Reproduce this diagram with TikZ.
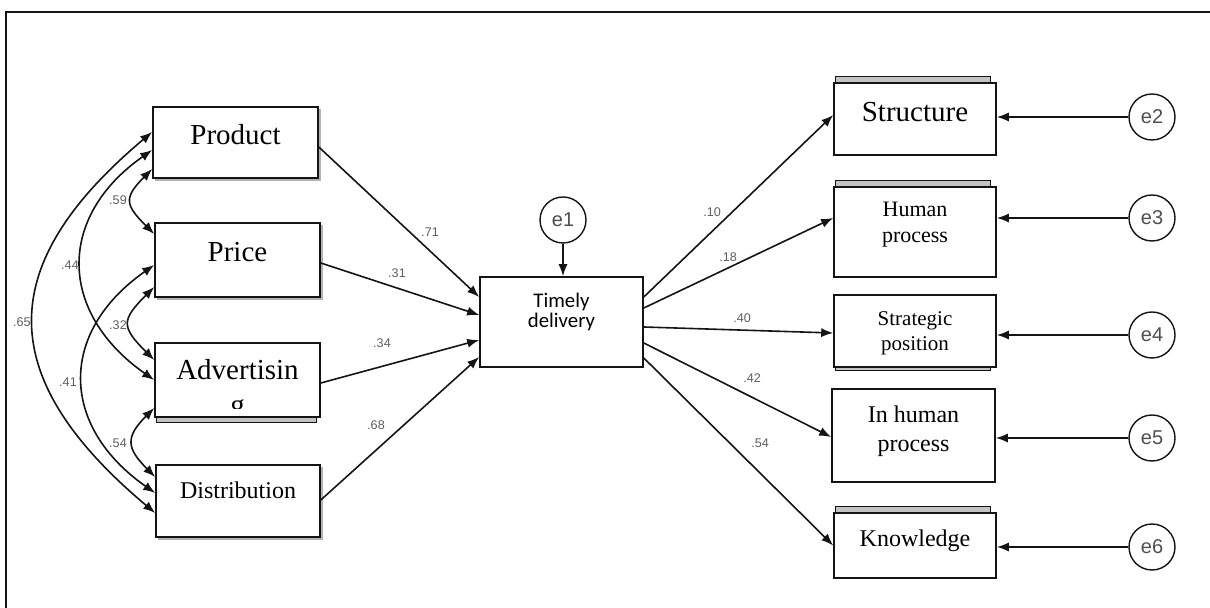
\documentclass[tikz,border=0pt]{standalone}
\usepackage{fontspec}
\setmainfont{Liberation Serif}
\newfontfamily\calibrifont{Carlito}
\newfontfamily\arialfont{Liberation Sans}
\usetikzlibrary{arrows.meta,backgrounds}
\definecolor{ink}{RGB}{20,20,20}
\definecolor{coefgray}{RGB}{95,95,95}
\definecolor{backgray}{RGB}{195,195,195}
\tikzset{
  effect/.style={line width=0.8pt,ink,-{Latex[length=6pt,width=4.6pt]}},
  cov/.style={line width=0.8pt,ink,{Latex[length=6pt,width=4.6pt]}-{Latex[length=6pt,width=4.6pt]}},
  varbox/.style={draw=ink,line width=0.8pt,fill=white,inner sep=0pt,text height=10pt},
  errnode/.style={circle,draw=ink,line width=0.7pt,fill=white,minimum size=23pt,inner sep=0pt,
    font=\arialfont\fontsize{10}{12}\selectfont,text=ink!75},
  coef/.style={font=\arialfont\fontsize{6.3}{7}\selectfont,text=coefgray,inner sep=0pt},
  backcard/.style={draw=ink,line width=0.6pt,fill=backgray},
  bigserif/.style={font=\fontsize{14.5}{16}\selectfont}
}
\begin{document}
\begin{tikzpicture}[x=0.5pt,y=0.5pt]
  \useasboundingbox (0,0) rectangle (1210,-608);
  \draw[line width=1.2pt,ink] (6,-608) -- (6,-12) -- (1210,-12);
  % exogenous variables
  \node[varbox,bigserif,minimum width=82.5pt,minimum height=35.5pt,text depth=7.5pt] (prod) at (235.5,-142.5) {Product};
  \node[varbox,bigserif,minimum width=82.5pt,minimum height=37pt,text depth=8pt] (price) at (237.5,-260) {Price};
  \node[varbox,minimum width=82.5pt,minimum height=37pt] (adv) at (237.5,-380) {};
  \node[bigserif,anchor=base,inner sep=0pt] (advtext) at (adv.center) {Advertisin};
  \begin{scope}
    \clip ([yshift=4.5pt]adv.south west) rectangle (adv.north east);
    \node[bigserif,anchor=base,inner sep=0pt] (advcut) at ([yshift=-17.5pt]adv.center) {g};
  \end{scope}
  \node[varbox,font=\fontsize{12}{14}\selectfont,minimum width=82pt,minimum height=36pt,text depth=12pt] (dist) at (238,-501) {Distribution};
  % mediator
  \node[varbox,font=\calibrifont\fontsize{10.4}{10}\selectfont,align=center,minimum width=81.5pt,minimum height=45pt,text height=20pt,text depth=14pt] (timely) at (561.5,-322) {Timely\\delivery};
  \node[errnode] (e1) at (563,-220) {e1};
  % outcomes
  \node[varbox,bigserif,minimum width=81pt,minimum height=36pt,text depth=7pt] (struct) at (915,-119) {Structure};
  \node[varbox,font=\fontsize{11}{13}\selectfont,align=center,minimum width=81pt,minimum height=45pt,text height=23pt,text depth=12pt] (hum) at (915,-232) {Human\\process};
  \node[varbox,font=\fontsize{10.5}{12.5}\selectfont,align=center,minimum width=81pt,minimum height=36pt,text height=22.5pt,text depth=2.5pt] (strat) at (915,-331) {Strategic\\position};
  \node[varbox,font=\fontsize{12}{14.5}\selectfont,align=center,minimum width=81.5pt,minimum height=46.5pt,text height=24.5pt,text depth=8pt] (inhum) at (913.5,-435.5) {In human\\process};
  \node[varbox,font=\fontsize{12}{14}\selectfont,minimum width=81pt,minimum height=32.5pt,text depth=8.5pt] (know) at (915,-545.5) {Knowledge};
  \node[errnode] (e2) at (1152,-117) {e2};
  \node[errnode] (e3) at (1152,-218) {e3};
  \node[errnode] (e4) at (1152,-335) {e4};
  \node[errnode] (e5) at (1152,-438) {e5};
  \node[errnode] (e6) at (1152,-547) {e6};
  % stacked cards and shadows
  \begin{scope}[on background layer]
    \foreach \b in {struct,hum,know}
      \draw[backcard] ([xshift=1pt]\b.north west) rectangle ([xshift=-3pt,yshift=3pt]\b.north east);
    \draw[backcard] ([xshift=1pt,yshift=-1.5pt]strat.south west) rectangle ([xshift=-3pt]strat.south east);
    \draw[backcard] ([xshift=1pt,yshift=-2.5pt]adv.south west) rectangle ([xshift=-2pt]adv.south east);
    \foreach \b in {prod,price,dist}
      \fill[black!30] ([xshift=1.2pt,yshift=-1.2pt]\b.south west) rectangle ([xshift=1.2pt,yshift=-1.2pt]\b.north east);
  \end{scope}
  % covariances
  \draw[cov] ([yshift=-13.25pt]prod.west) .. controls +(225:41) and +(135:41) .. ([yshift=13pt]price.west);
  \draw[cov] ([yshift=-13.5pt]price.west) .. controls +(225:47) and +(135:47) .. ([yshift=10pt]adv.west);
  \draw[cov] ([yshift=-14pt]adv.west) .. controls +(225:41) and +(135:41) .. ([yshift=12pt]dist.west);
  \draw[cov] ([yshift=-3.75pt]prod.west) .. controls +(215:117) and +(145:117) .. (adv.west);
  \draw[cov] ([yshift=-2.5pt]price.west) .. controls +(215:117) and +(145:117) .. ([yshift=4pt]dist.west);
  \draw[cov] ([yshift=5.25pt]prod.west) .. controls +(220:209) and +(140:209) .. ([yshift=-6pt]dist.west);
  \node[coef] (c59) at (118,-200) {.59};
  \node[coef] (c32) at (118,-325) {.32};
  \node[coef] (c54) at (118,-443) {.54};
  \node[coef] (c44) at (70,-265) {.44};
  \node[coef] (c41) at (68,-382) {.41};
  \node[coef] (c65) at (22,-322) {.65};
  % paths into timely delivery
  \draw[effect] ([yshift=-2.25pt]prod.east) -- ([yshift=12.5pt]timely.west);
  \draw[effect] ([yshift=-1.5pt]price.east) -- ([yshift=3.5pt]timely.west);
  \draw[effect] ([yshift=-1.5pt]adv.east) -- ([yshift=-9pt]timely.west);
  \draw[effect] ([yshift=0.5pt]dist.east) -- ([yshift=-17.5pt]timely.west);
  \draw[effect] (e1.south) -- (e1.south |- timely.north);
  \node[coef] (c71) at (430,-232) {.71};
  \node[coef] (c31) at (397,-273) {.31};
  \node[coef] (c34) at (382,-343) {.34};
  \node[coef] (c68) at (376,-425) {.68};
  % paths out of timely delivery
  \draw[effect] ([yshift=12.5pt]timely.east) -- ([yshift=2pt]struct.west);
  \draw[effect] ([yshift=7pt]timely.east) -- ([yshift=7pt]hum.west);
  \draw[effect] ([yshift=-2.5pt]timely.east) -- ([yshift=-1pt]strat.west);
  \draw[effect] ([yshift=-10.5pt]timely.east) -- ([yshift=-0.75pt]inhum.west);
  \draw[effect] ([yshift=-18pt]timely.east) -- (know.west);
  \node[coef] (c10) at (712,-212) {.10};
  \node[coef] (c18) at (728,-257) {.18};
  \node[coef] (c40) at (742,-318) {.40};
  \node[coef] (c42) at (752,-378) {.42};
  \node[coef] (c54b) at (760,-443) {.54};
  % error terms
  \foreach \e/\b in {e2/struct,e3/hum,e4/strat,e5/inhum,e6/know}
    \draw[effect] (\e.west) -- (\e.west -| \b.east);
\end{tikzpicture}
\end{document}
